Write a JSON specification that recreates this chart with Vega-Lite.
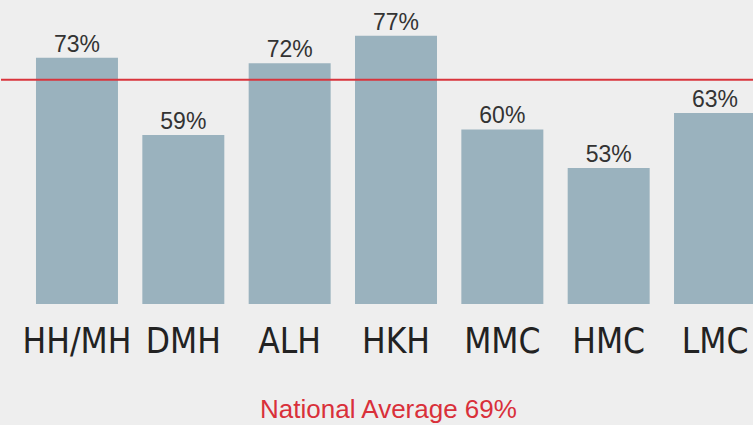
{
  "$schema": "https://vega.github.io/schema/vega-lite/v6.json",
  "width": 790,
  "height": 304,
  "padding": {"left": 0, "top": 0, "right": 0, "bottom": 4},
  "background": "#eeeeee",
  "config": {"view": {"stroke": null}},
  "data": {"values": [
    {"site": "HH/MH", "pct": 73, "label": "73%"},
    {"site": "DMH", "pct": 59, "label": "59%"},
    {"site": "ALH", "pct": 72, "label": "72%"},
    {"site": "HKH", "pct": 77, "label": "77%"},
    {"site": "MMC", "pct": 60, "label": "60%"},
    {"site": "HMC", "pct": 53, "label": "53%"},
    {"site": "LMC", "pct": 63, "label": "63%"}
  ]},
  "encoding": {
    "x": {"field": "site", "type": "nominal", "sort": null,
      "scale": {"paddingInner": 0.229, "paddingOuter": 0.329},
      "axis": {"title": "National Average 69%", "titleColor": "#d9303a", "titleFont": "Liberation Sans", "titleFontSize": 26, "titleFontWeight": "normal",
        "titleX": 387, "titleY": 113, "titleBaseline": "alphabetic", "titleAlign": "center",
        "labelAngle": 0, "labelFont": "DejaVu Sans Condensed, DejaVu Sans", "labelFontSize": 35, "labelColor": "#222222", "labelBaseline": "alphabetic", "labelPadding": 48, "ticks": false, "domain": false}}
  },
  "layer": [
    {"mark": {"type": "bar", "color": "#9ab2be"},
     "encoding": {"y": {"field": "pct", "type": "quantitative", "scale": {"domain": [28.3, 83.5], "zero": false, "nice": false}, "axis": null},
                  "y2": {"datum": 28.3}}},
    {"mark": {"type": "text", "baseline": "alphabetic", "dy": -6, "font": "Liberation Sans", "fontSize": 23, "color": "#333333"},
     "encoding": {"y": {"field": "pct", "type": "quantitative"}, "text": {"field": "label", "type": "nominal"}}},
    {"data": {"values": [{"avg": 69}]},
     "mark": {"type": "rule", "color": "#d9343c", "strokeWidth": 2},
     "encoding": {"x": null, "y": {"field": "avg", "type": "quantitative"}}}
  ]
}
